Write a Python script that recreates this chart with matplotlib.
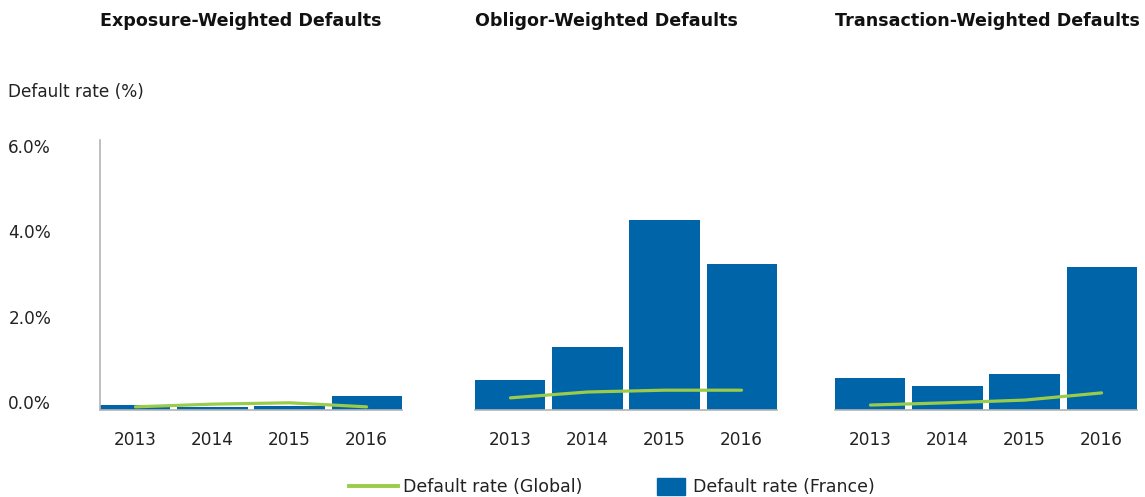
import numpy as np
import matplotlib.pyplot as plt
import matplotlib.transforms as mtransforms
from matplotlib.lines import Line2D
from matplotlib.patches import Patch

plt.rcParams['font.family'] = ['DejaVu Sans']

jahre = ['2013', '2014', '2015', '2016']
titel = ['Exposure-Weighted Defaults', 'Obligor-Weighted Defaults', 'Transaction-Weighted Defaults']

# Default rate (France) in %, bars
frankreich = [
    [0.11, 0.07, 0.09, 0.31],
    [0.67, 1.40, 4.22, 3.24],
    [0.71, 0.53, 0.80, 3.18],
]
# Default rate (Global) in %, line
global_rate = [
    [0.07, 0.13, 0.16, 0.07],
    [0.27, 0.40, 0.44, 0.44],
    [0.11, 0.16, 0.22, 0.38],
]
yticks = [0, 2, 4, 6]
ytick_labels = ['0.0%', '2.0%', '4.0%', '6.0%']

blau = '#0064a8'
gruen = '#9bcb4b'
grau = '#b4b4b4'
text_farbe = '#222222'

fig = plt.figure(figsize=(11.45, 4.97), dpi=100)
lefts = [100 / 1145, 475 / 1145, 835 / 1145]
breite = 302 / 1145
unten = 1 - 410 / 497
hoehe = 270 / 497

x = np.arange(len(jahre))
for i in range(3):
    ax = fig.add_axes([lefts[i], unten, breite, hoehe])
    ax.bar(x, frankreich[i], width=0.91, color=blau, zorder=2)
    ax.plot(x, global_rate[i], color=gruen, lw=2.3, zorder=3, solid_capstyle='round')
    ax.set_xlim(-0.46, 3.46)
    ax.set_ylim(0, 6)
    ax.set_xticks(x)
    ax.set_xticklabels(jahre, fontsize=12.2, color=text_farbe)
    ax.tick_params(axis='x', length=0, pad=15)
    for s in ['top', 'right']:
        ax.spines[s].set_visible(False)
    ax.spines['bottom'].set_color(grau)
    ax.spines['bottom'].set_linewidth(1.2)
    if i == 0:
        ax.spines['left'].set_color(grau)
        ax.spines['left'].set_linewidth(1.2)
        ax.set_yticks(yticks)
        ax.set_yticklabels(ytick_labels, fontsize=12.2, color=text_farbe)
        ax.tick_params(axis='y', length=0, pad=66)
        # die Beschriftungen sitzen im Original etwas zusammengedrueckt
        for lbl, dy in zip(ax.get_yticklabels(), [6, 2, -1, -4]):
            lbl.set_ha('left')
            lbl.set_transform(lbl.get_transform() + mtransforms.ScaledTranslation(0, dy / 72, fig.dpi_scale_trans))
    else:
        ax.spines['left'].set_visible(False)
        ax.set_yticks([])
    ax.set_title(titel[i], loc='left', fontsize=12.6, fontweight='bold', color='#111111', pad=82)

fig.text(8 / 1145, 1 - 92 / 497, 'Default rate (%)', fontsize=12.2, color=text_farbe, va='center')

leg1 = fig.legend(handles=[Line2D([0], [0], color=gruen, lw=2.8)], labels=['Default rate (Global)'],
                  loc='center', bbox_to_anchor=(466 / 1145, 1 - 487 / 497), frameon=False,
                  fontsize=12.5, handlelength=2.8, handletextpad=0.3, labelcolor=text_farbe)
leg2 = fig.legend(handles=[Patch(color=blau)], labels=['Default rate (France)'],
                  loc='center', bbox_to_anchor=(766 / 1145, 1 - 487 / 497), frameon=False,
                  fontsize=12.5, handlelength=1.6, handleheight=1.2, handletextpad=0.5,
                  labelcolor=text_farbe)

fig.savefig('out.png', dpi=100)
